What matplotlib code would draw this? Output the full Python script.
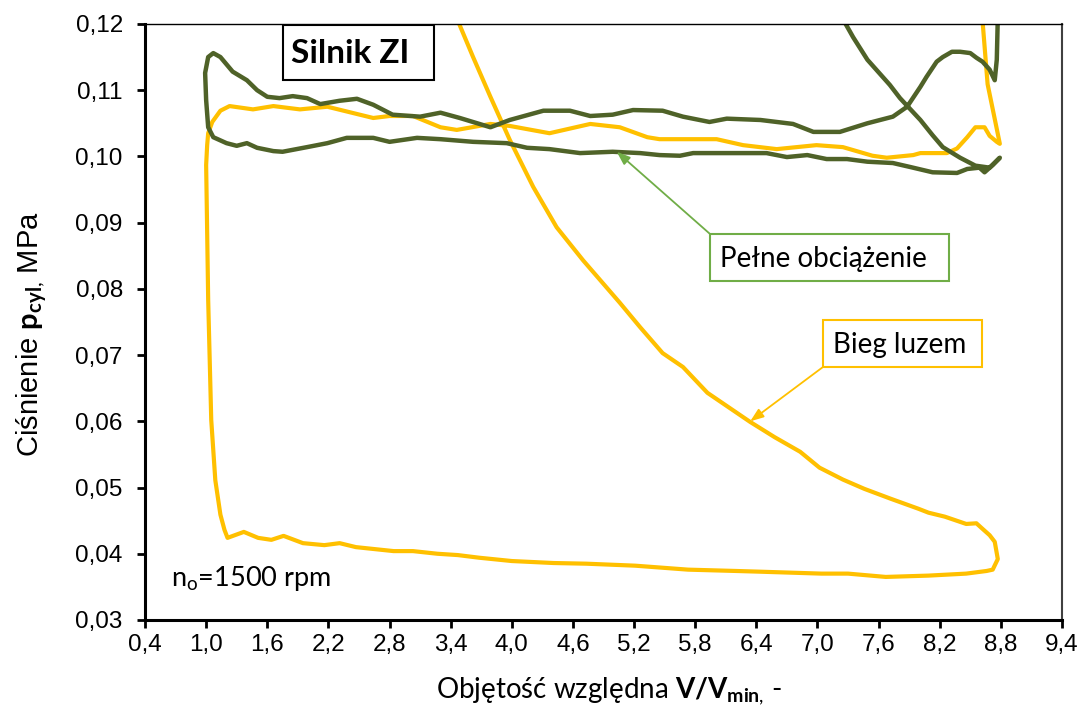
import matplotlib
matplotlib.use("Agg")
import matplotlib.pyplot as plt
from matplotlib.patches import Rectangle
from matplotlib.ticker import FuncFormatter, FixedLocator

plt.rcParams['font.family'] = ['Lato', 'DejaVu Sans']
plt.rcParams['mathtext.fontset'] = 'custom'
plt.rcParams['mathtext.rm'] = 'Lato'
plt.rcParams['mathtext.bf'] = 'Lato:bold'
plt.rcParams['mathtext.it'] = 'Lato:italic'

# idle run loop: expansion tail, exhaust, intake, compression
idle_v = [8.62, 8.67, 8.79, 8.76, 8.69, 8.64, 8.55, 8.47, 8.37, 8.27, 8.01, 7.94, 7.68, 7.54,
          7.25, 6.99, 6.60, 6.27, 6.01, 5.45, 5.33, 5.06, 4.77, 4.37, 3.98, 3.79, 3.46, 3.30,
          3.03, 2.80, 2.64, 2.19, 1.92, 1.66, 1.46, 1.23, 1.14, 1.06, 1.02, 1.01, 1.00, 1.02,
          1.05, 1.09, 1.14, 1.18, 1.21, 1.37, 1.51, 1.64, 1.76, 1.95, 2.16, 2.31, 2.47, 2.84,
          3.03, 3.27, 3.47, 3.68, 4.00, 4.41, 4.73, 5.21, 5.73, 6.20, 6.42, 7.04, 7.30, 7.67,
          8.09, 8.46, 8.66, 8.72, 8.77, 8.74, 8.69, 8.61, 8.56, 8.46, 8.25, 8.09, 7.99, 7.72,
          7.46, 7.25, 7.02, 6.83, 6.58, 6.34, 5.92, 5.68, 5.48, 5.26, 5.06, 4.70, 4.44, 4.21,
          3.98, 3.79, 3.62, 3.47]
idle_p = [0.1205, 0.1109, 0.1019, 0.1022, 0.1031, 0.1044, 0.1044, 0.1029, 0.1012, 0.1005,
          0.1005, 0.1002, 0.0998, 0.1001, 0.1014, 0.1017, 0.1011, 0.1017, 0.1026, 0.1026,
          0.1029, 0.1044, 0.1049, 0.1035, 0.1046, 0.1049, 0.1040, 0.1044, 0.1061, 0.1061,
          0.1058, 0.1075, 0.1071, 0.1076, 0.1071, 0.1076, 0.1069, 0.1052, 0.1035, 0.1017,
          0.0987, 0.0783, 0.0602, 0.0511, 0.0459, 0.0436, 0.0424, 0.0433, 0.0424, 0.0421,
          0.0427, 0.0416, 0.0413, 0.0416, 0.0410, 0.0404, 0.0404, 0.0400, 0.0398, 0.0394,
          0.0389, 0.0386, 0.0385, 0.0382, 0.0376, 0.0374, 0.0373, 0.0370, 0.0370, 0.0365,
          0.0367, 0.0370, 0.0374, 0.0376, 0.0392, 0.0418, 0.0428, 0.0439, 0.0446, 0.0445,
          0.0456, 0.0462, 0.0468, 0.0483, 0.0498, 0.0512, 0.0530, 0.0554, 0.0576, 0.0599,
          0.0643, 0.0682, 0.0703, 0.0742, 0.0779, 0.0843, 0.0893, 0.0954, 0.1025, 0.1090,
          0.1150, 0.1205]

# full load loop
full_v = [8.77, 8.76, 8.74, 8.69, 8.62, 8.56, 8.50, 8.40, 8.32, 8.23, 8.17, 8.07, 8.01, 7.88,
          7.74, 7.49, 7.22, 6.96, 6.76, 6.44, 6.11, 5.94, 5.68, 5.48, 5.19, 4.99, 4.77, 4.57,
          4.31, 3.98, 3.79, 3.49, 3.30, 3.10, 2.83, 2.64, 2.48, 2.31, 2.12, 1.99, 1.85, 1.72,
          1.60, 1.50, 1.40, 1.26, 1.14, 1.07, 1.02, 0.99, 1.00, 1.02, 1.07, 1.20, 1.30, 1.40,
          1.50, 1.66, 1.75, 1.99, 2.19, 2.38, 2.64, 2.80, 3.07, 3.30, 3.62, 3.95, 4.15, 4.37,
          4.67, 4.99, 5.26, 5.45, 5.65, 5.78, 6.17, 6.50, 6.70, 6.90, 7.09, 7.29, 7.49, 7.74,
          7.91, 8.13, 8.37, 8.47, 8.59, 8.64, 8.72, 8.79, 8.69, 8.55, 8.40, 8.23, 8.13, 8.01,
          7.81, 7.71, 7.49, 7.35, 7.24]
full_p = [0.1210, 0.1146, 0.1115, 0.1131, 0.1143, 0.1149, 0.1156, 0.1158, 0.1158, 0.1150,
          0.1143, 0.1120, 0.1105, 0.1075, 0.1060, 0.1050, 0.1037, 0.1037, 0.1049, 0.1055,
          0.1057, 0.1052, 0.1060, 0.1069, 0.1070, 0.1063, 0.1061, 0.1069, 0.1069, 0.1055,
          0.1044, 0.1058, 0.1066, 0.1060, 0.1063, 0.1078, 0.1087, 0.1084, 0.1079, 0.1088,
          0.1091, 0.1088, 0.1090, 0.1100, 0.1115, 0.1128, 0.1150, 0.1156, 0.1150, 0.1126,
          0.1085, 0.1044, 0.1029, 0.1020, 0.1016, 0.1020, 0.1013, 0.1008, 0.1007, 0.1014,
          0.1020, 0.1028, 0.1028, 0.1022, 0.1028, 0.1026, 0.1022, 0.1020, 0.1013, 0.1011,
          0.1005, 0.1007, 0.1005, 0.1002, 0.1001, 0.1005, 0.1005, 0.1005, 0.0999, 0.1002,
          0.0996, 0.0996, 0.0992, 0.0990, 0.0984, 0.0976, 0.0975, 0.0981, 0.0983, 0.0976,
          0.0987, 0.0998, 0.0983, 0.0986, 0.0998, 0.1014, 0.1032, 0.1055, 0.1088, 0.1108,
          0.1146, 0.1180, 0.1210]

x_ticks = [0.4, 1.0, 1.6, 2.2, 2.8, 3.4, 4.0, 4.6, 5.2, 5.8, 6.4, 7.0, 7.6, 8.2, 8.8, 9.4]
y_ticks = [0.03, 0.04, 0.05, 0.06, 0.07, 0.08, 0.09, 0.10, 0.11, 0.12]

label_full = "Pełne obciążenie"
label_idle = "Bieg luzem"
full_arrow_at = (5.03, 0.1007)
idle_arrow_at = (6.34, 0.0600)

YELLOW = "#FFC000"
OLIVE = "#4F6228"
LEAF = "#70AD47"

fig = plt.figure(figsize=(10.83, 7.15), dpi=100)
ax = fig.add_axes([0.1339, 0.1329, 0.8467, 0.8336])

ax.plot(idle_v, idle_p, color=YELLOW, lw=3.0, solid_joinstyle='round', solid_capstyle='round')
ax.plot(full_v, full_p, color=OLIVE, lw=3.2, solid_joinstyle='round', solid_capstyle='round')

ax.set_xlim(0.4, 9.4)
ax.set_ylim(0.03, 0.12)
ax.xaxis.set_major_locator(FixedLocator(x_ticks))
ax.yaxis.set_major_locator(FixedLocator(y_ticks))
ax.xaxis.set_major_formatter(FuncFormatter(lambda v, _: f"{v:.1f}".replace('.', ',')))
ax.yaxis.set_major_formatter(FuncFormatter(lambda v, _: f"{v:.2f}".replace('.', ',')))

ax.tick_params(axis='both', direction='out', length=6, width=2, labelsize=17.5,
               color='black', labelfontfamily='Liberation Sans')
ax.tick_params(axis='x', pad=4)
ax.tick_params(axis='y', pad=10)
ax.tick_params(top=False, right=False)

ax.spines['left'].set_linewidth(2.2)
ax.spines['bottom'].set_linewidth(2.2)
ax.spines['top'].set_linewidth(1.0)
ax.spines['right'].set_linewidth(1.5)
ax.spines['right'].set_color('#404040')

ax.set_xlabel(r"Objętość względna $\mathbf{V/V}_{\mathbf{min}\mathrm{,}}$ -", fontsize=20)
ax.xaxis.set_label_coords(0.506, -0.093)
ax.set_ylabel(r"Ciśnienie $\mathbf{p}_{\mathbf{cyl}\mathrm{,}}$ MPa", fontsize=21,
              family='Liberation Sans')
ax.yaxis.set_label_coords(-0.105, 0.48)

# title box
ax.add_patch(Rectangle((0.1505, 0.906), 0.1647, 0.0923, transform=ax.transAxes,
                       fill=False, ec='black', lw=1.5, zorder=5))
ax.text(0.2236, 0.951, "Silnik ZI", transform=ax.transAxes, ha='center', va='center',
        fontsize=24, fontweight='bold', zorder=6)

# callouts
ax.add_patch(Rectangle((0.6161, 0.5688), 0.2606, 0.0789, transform=ax.transAxes,
                       facecolor='white', ec=LEAF, lw=1.5, zorder=5))
ax.text(0.627, 0.606, label_full, transform=ax.transAxes, ha='left', va='center',
        fontsize=20, zorder=6)
ax.annotate("", xy=full_arrow_at, xycoords='data', xytext=(0.6161, 0.6477),
            textcoords='axes fraction',
            arrowprops=dict(arrowstyle='-|>,head_length=0.8,head_width=0.3', color=LEAF,
                            lw=1.3, shrinkA=0, shrinkB=0))

ax.add_patch(Rectangle((0.7394, 0.4245), 0.1734, 0.0789, transform=ax.transAxes,
                       facecolor='white', ec=YELLOW, lw=1.5, zorder=5))
ax.text(0.750, 0.462, label_idle, transform=ax.transAxes, ha='left', va='center',
        fontsize=20, zorder=6)
ax.annotate("", xy=idle_arrow_at, xycoords='data', xytext=(0.7394, 0.4245),
            textcoords='axes fraction',
            arrowprops=dict(arrowstyle='-|>,head_length=0.8,head_width=0.3', color=YELLOW,
                            lw=1.3, shrinkA=0, shrinkB=0))

ax.text(0.028, 0.07, r"n$_\mathrm{o}$=1500 rpm", transform=ax.transAxes,
        ha='left', va='center', fontsize=19.5)

fig.savefig("out.png", dpi=100)
